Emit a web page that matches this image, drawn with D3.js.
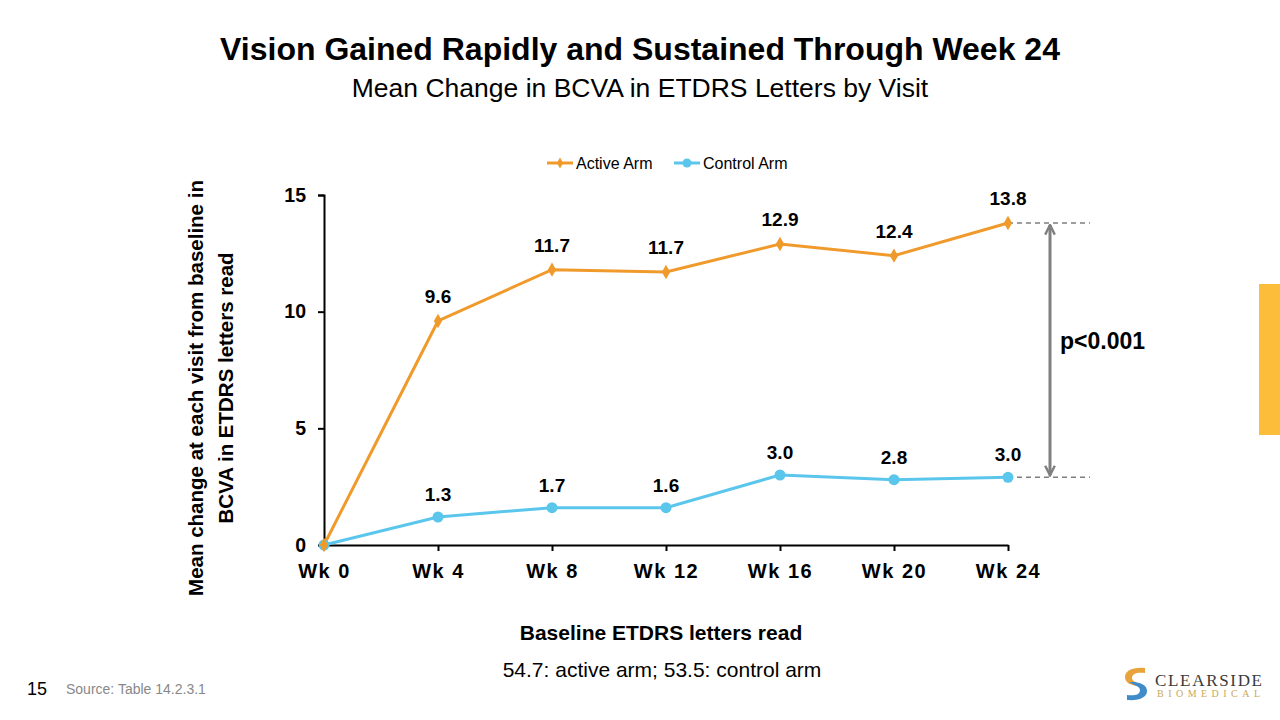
<!DOCTYPE html>
<html><head><meta charset="utf-8">
<script src="https://cdn.jsdelivr.net/npm/d3@7"></script>
<style>body{margin:0;background:#fff;} svg{display:block;font-family:"Liberation Sans",Arial,sans-serif;}</style>
</head><body>
<svg id="c" width="1280" height="720"></svg>
<script>
const categories = ["Wk 0","Wk 4","Wk 8","Wk 12","Wk 16","Wk 20","Wk 24"];
const activeValues = [0, 9.6, 11.8, 11.7, 12.9, 12.4, 13.8];
const activeLabels = ["", "9.6", "11.7", "11.7", "12.9", "12.4", "13.8"];
const controlValues = [0, 1.2, 1.6, 1.6, 3.0, 2.8, 2.9];
const controlLabels = ["", "1.3", "1.7", "1.6", "3.0", "2.8", "3.0"];
const yTicks = [0, 5, 10, 15];
const seriesNames = ["Active Arm", "Control Arm"];

const svg = d3.select("#c");
const orange = "#F09A2C", blue = "#5BC6EC";
const FF = "Liberation Sans, Arial, sans-serif";

svg.append("text").attr("x",640).attr("y",60).attr("text-anchor","middle")
  .attr("font-size",32).attr("font-weight","bold").attr("fill","#000")
  .text("Vision Gained Rapidly and Sustained Through Week 24");
svg.append("text").attr("x",640).attr("y",97).attr("text-anchor","middle")
  .attr("font-size",26.5).attr("fill","#000")
  .text("Mean Change in BCVA in ETDRS Letters by Visit");

const x = d3.scalePoint().domain(categories).range([324,1008]);
const y = d3.scaleLinear().domain([0,15]).range([545,195]);

// axes
const yAxis = svg.append("g").attr("transform","translate(324,0)")
  .call(d3.axisLeft(y).tickValues(yTicks).tickSize(6).tickPadding(12));
yAxis.select(".domain").attr("stroke","#000").attr("stroke-width",2);
yAxis.selectAll(".tick line").attr("stroke","#000").attr("stroke-width",2);
yAxis.selectAll(".tick text").attr("font-size",19.5).attr("font-weight","bold")
  .attr("font-family",FF).attr("fill","#000");

const xAxis = svg.append("g").attr("transform","translate(0,545)")
  .call(d3.axisBottom(x).tickSize(6).tickPadding(9).tickSizeOuter(0));
xAxis.select(".domain").attr("stroke","#000").attr("stroke-width",2);
xAxis.selectAll(".tick line").attr("stroke","#000").attr("stroke-width",2);
xAxis.selectAll(".tick").filter(d=>d===categories[0]).select("line").remove();
xAxis.selectAll(".tick text").attr("font-size",20).attr("font-weight","bold")
  .attr("font-family",FF).attr("fill","#000")
  .attr("dy","0.9em").style("letter-spacing","1.5px");

// y label
const yl = svg.append("text").attr("transform","rotate(-90)")
  .attr("font-size",20.5).attr("font-weight","bold").attr("text-anchor","middle").attr("fill","#000");
yl.append("tspan").attr("x",-388).attr("y",203).text("Mean change at each visit from baseline in");
yl.append("tspan").attr("x",-388).attr("y",233).text("BCVA in ETDRS letters read");

// dashed reference lines and arrow
const gray = "#7F7F7F";
[activeValues[6], controlValues[6]].forEach(v=>{
  svg.append("line").attr("x1",x(categories[6])).attr("x2",1090)
    .attr("y1",y(v)).attr("y2",y(v)).attr("stroke",gray).attr("stroke-width",1.5)
    .attr("stroke-dasharray","5,4");
});
svg.append("defs").append("marker").attr("id","ah").attr("viewBox","0 0 10 10")
  .attr("refX",9).attr("refY",5).attr("markerWidth",4).attr("markerHeight",4)
  .attr("orient","auto-start-reverse")
  .append("path").attr("d","M1,1 L9,5 L1,9").attr("fill","none").attr("stroke",gray).attr("stroke-width",2);
svg.append("line").attr("x1",1050).attr("x2",1050)
  .attr("y1",y(activeValues[6])+2).attr("y2",y(controlValues[6])-2)
  .attr("stroke",gray).attr("stroke-width",3)
  .attr("marker-start","url(#ah)").attr("marker-end","url(#ah)");
svg.append("text").attr("x",1060).attr("y",349).attr("font-size",23).attr("font-weight","bold")
  .attr("fill","#000").text("p<0.001");

// lines
const line = d3.line().x((d,i)=>x(categories[i])).y(d=>y(d));
svg.append("path").datum(controlValues).attr("d",line).attr("fill","none")
  .attr("stroke",blue).attr("stroke-width",3);
svg.append("path").datum(activeValues).attr("d",line).attr("fill","none")
  .attr("stroke",orange).attr("stroke-width",3);

svg.selectAll(".cm").data(controlValues).enter().append("circle")
  .attr("cx",(d,i)=>x(categories[i])).attr("cy",d=>y(d)).attr("r",5.5).attr("fill",blue);
const diamond = d3.symbol().type(d3.symbolDiamond).size(60);
svg.selectAll(".am").data(activeValues).enter().append("path")
  .attr("d",diamond).attr("transform",(d,i)=>`translate(${x(categories[i])},${y(d)})`).attr("fill",orange);

// data labels
svg.selectAll(".al").data(activeValues).enter().append("text")
  .attr("x",(d,i)=>x(categories[i])).attr("y",d=>y(d)-18).attr("text-anchor","middle")
  .attr("font-size",19).attr("font-weight","bold").attr("fill","#000")
  .text((d,i)=>activeLabels[i]);
svg.selectAll(".cl").data(controlValues).enter().append("text")
  .attr("x",(d,i)=>x(categories[i])).attr("y",d=>y(d)-16).attr("text-anchor","middle")
  .attr("font-size",19).attr("font-weight","bold").attr("fill","#000")
  .text((d,i)=>controlLabels[i]);

// legend
const lg = svg.append("g");
[[547, orange, seriesNames[0], "d"], [674, blue, seriesNames[1], "c"]].forEach(([lx,col,name,t])=>{
  lg.append("line").attr("x1",lx).attr("x2",lx+26).attr("y1",163).attr("y2",163).attr("stroke",col).attr("stroke-width",3);
  if(t==="d") lg.append("path").attr("d",d3.symbol().type(d3.symbolDiamond).size(35)).attr("transform",`translate(${lx+13},163)`).attr("fill",col);
  else lg.append("circle").attr("cx",lx+13).attr("cy",163).attr("r",4.5).attr("fill",col);
  lg.append("text").attr("x",lx+29).attr("y",168.5).attr("font-size",16).attr("fill","#000").text(name);
});

// bottom text
svg.append("text").attr("x",661).attr("y",640).attr("text-anchor","middle")
  .attr("font-size",21).attr("font-weight","bold").attr("fill","#000").text("Baseline ETDRS letters read");
svg.append("text").attr("x",662).attr("y",677).attr("text-anchor","middle")
  .attr("font-size",21).attr("fill","#000").text("54.7: active arm; 53.5: control arm");

svg.append("text").attr("x",27).attr("y",695).attr("font-size",18).attr("fill","#000").text("15");
svg.append("text").attr("x",66).attr("y",694).attr("font-size",14).attr("fill","#888").text("Source: Table 14.2.3.1");

// yellow tab
svg.append("rect").attr("x",1259).attr("y",284).attr("width",21).attr("height",151).attr("fill","#FBBD3A");

// logo
const lgG = svg.append("g");
lgG.append("path").attr("d","M1145,668 C1132,667 1125,671 1125,677 C1125,683 1131,685 1137,686 L1143,686 C1139,683 1132,682 1132,678 C1132,673 1138,672 1145,673 Z").attr("fill","#E8A33C");
lgG.append("path").attr("d","M1127,700 C1140,701 1147,697 1147,691 C1147,685 1141,683 1135,682 L1129,682 C1133,685 1140,686 1140,690 C1140,695 1134,696 1127,695 Z").attr("fill","#3F8CC8");
lgG.append("text").attr("x",1155).attr("y",686).attr("font-family","Liberation Serif, serif")
  .attr("font-size",17).attr("fill","#3a3a3a").attr("textLength",107).attr("lengthAdjust","spacing").text("CLEARSIDE");
lgG.append("text").attr("x",1157).attr("y",697).attr("font-family","Liberation Serif, serif")
  .attr("font-size",10).attr("fill","#C9A860").attr("textLength",103).attr("lengthAdjust","spacing").text("BIOMEDICAL");
</script>
</body></html>
